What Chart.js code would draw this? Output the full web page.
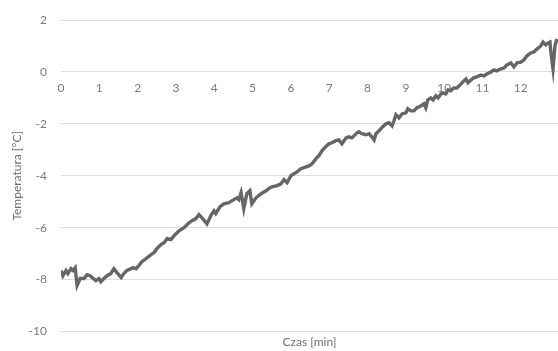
<!DOCTYPE html>
<html>
<head>
<meta charset="utf-8">
<script src="https://cdn.jsdelivr.net/npm/chart.js@4/dist/chart.umd.min.js"></script>
<style>
  html, body { margin: 0; padding: 0; background: #ffffff; }
  #wrap { width: 558px; height: 351px; }
</style>
</head>
<body>
<div id="wrap"><canvas id="c" width="558" height="351"></canvas></div>
<script>
// Czas pomiaru [min]
const czas = [0, 0.05, 0.13, 0.18, 0.26, 0.31, 0.37, 0.42, 0.50, 0.60,
  0.68, 0.76, 0.81, 0.91, 0.99, 1.04, 1.12, 1.20, 1.30, 1.38,
  1.46, 1.57, 1.64, 1.72, 1.83, 1.88, 1.96, 2.03, 2.11, 2.22,
  2.35, 2.43, 2.50, 2.61, 2.69, 2.77, 2.87, 2.95, 3.08, 3.21,
  3.34, 3.42, 3.52, 3.60, 3.68, 3.81, 3.91, 3.99, 4.04, 4.15,
  4.25, 4.38, 4.51, 4.59, 4.64, 4.70, 4.77, 4.85, 4.93, 4.98,
  5.09, 5.22, 5.35, 5.45, 5.53, 5.64, 5.74, 5.82, 5.90, 6.00,
  6.08, 6.16, 6.26, 6.34, 6.47, 6.55, 6.65, 6.73, 6.81, 6.91,
  6.99, 7.07, 7.17, 7.25, 7.33, 7.44, 7.51, 7.59, 7.70, 7.77,
  7.85, 7.96, 8.04, 8.11, 8.17, 8.22, 8.30, 8.37, 8.48, 8.56,
  8.64, 8.69, 8.74, 8.82, 8.90, 9.00, 9.05, 9.13, 9.21, 9.29,
  9.39, 9.47, 9.52, 9.57, 9.65, 9.71, 9.78, 9.84, 9.91, 9.97,
  10.04, 10.10, 10.17, 10.25, 10.33, 10.44, 10.51, 10.57, 10.62, 10.70,
  10.77, 10.85, 10.96, 11.04, 11.11, 11.22, 11.30, 11.37, 11.48, 11.56,
  11.64, 11.74, 11.82, 11.90, 12.00, 12.08, 12.16, 12.26, 12.34, 12.42,
  12.52, 12.58, 12.65, 12.71, 12.76, 12.78, 12.84, 12.89, 12.94];

// Temperatura [°C]
const temperatura = [-7.65, -7.85, -7.65, -7.77, -7.58, -7.65, -7.54, -8.23, -7.96, -7.96,
  -7.81, -7.85, -7.92, -8.04, -7.96, -8.08, -7.96, -7.85, -7.77, -7.58,
  -7.73, -7.92, -7.77, -7.65, -7.58, -7.54, -7.58, -7.46, -7.31, -7.19,
  -7.04, -6.96, -6.81, -6.65, -6.58, -6.42, -6.46, -6.31, -6.12, -6.0,
  -5.81, -5.73, -5.65, -5.5, -5.62, -5.85, -5.54, -5.35, -5.46, -5.19,
  -5.08, -5.04, -4.92, -4.85, -4.92, -4.65, -5.27, -4.69, -4.58, -5.08,
  -4.85, -4.69, -4.58, -4.46, -4.42, -4.38, -4.31, -4.15, -4.27, -4.0,
  -3.92, -3.85, -3.73, -3.69, -3.62, -3.54, -3.35, -3.23, -3.04, -2.88,
  -2.77, -2.73, -2.65, -2.62, -2.77, -2.54, -2.5, -2.54, -2.38, -2.31,
  -2.38, -2.42, -2.38, -2.5, -2.62, -2.38, -2.27, -2.15, -2.0, -1.96,
  -2.08, -1.88, -1.65, -1.77, -1.62, -1.58, -1.42, -1.5, -1.5, -1.38,
  -1.31, -1.23, -1.38, -1.08, -1.0, -1.08, -0.92, -1.0, -0.85, -0.81,
  -0.85, -0.69, -0.73, -0.62, -0.62, -0.46, -0.35, -0.27, -0.42, -0.31,
  -0.23, -0.19, -0.12, -0.15, -0.08, 0.0, 0.08, 0.04, 0.12, 0.15,
  0.27, 0.35, 0.19, 0.35, 0.38, 0.46, 0.62, 0.73, 0.77, 0.88,
  1.0, 1.15, 1.04, 1.12, 1.15, 0.81, 0.12, 1.0, 1.27];

// Podziałka osi
const czasTicks = [0, 1, 2, 3, 4, 5, 6, 7, 8, 9, 10, 11, 12];
const tempTicks = [-10, -8, -6, -4, -2, 0, 2];

const punkty = czas.map((t, i) => ({ x: t, y: temperatura[i] }));
const FONT = 'Lato, "Liberation Sans", sans-serif';
const xMax = 12.97;

new Chart(document.getElementById('c'), {
  type: 'line',
  data: {
    datasets: [{
      data: punkty,
      xAxisID: 'x',
      yAxisID: 'y',
      borderColor: '#666666',
      borderWidth: 3.4,
      pointRadius: 0,
      tension: 0,
      fill: false
    }]
  },
  options: {
    responsive: false,
    animation: false,
    layout: { padding: { left: 10, right: 0, top: 20, bottom: 0 } },
    plugins: { legend: { display: false }, tooltip: { enabled: false } },
    scales: {
      // oś czasu przecina oś temperatury w zerze
      x: {
        type: 'linear',
        position: { y: 0 },
        min: 0,
        max: xMax,
        afterFit: (s) => { s.height = 0; },
        afterBuildTicks: (s) => { s.ticks = czasTicks.map(v => ({ value: v })); },
        grid: { display: false, drawTicks: false },
        border: { display: false },
        ticks: {
          padding: 9,
          maxRotation: 0,
          color: '#7a7a7a',
          font: { family: FONT, size: 12 }
        }
      },
      // dolna oś tylko z opisem
      xb: {
        type: 'linear',
        position: 'bottom',
        min: 0,
        max: xMax,
        grid: { display: false, drawTicks: false },
        border: { display: false },
        ticks: { display: false },
        title: {
          display: true,
          text: 'Czas [min]',
          color: '#6e6e6e',
          font: { family: FONT, size: 12 },
          padding: { top: 3.5, bottom: 1.6 }
        }
      },
      y: {
        type: 'linear',
        min: -10,
        max: 2,
        afterFit: (s) => { s.width = 51; },
        afterBuildTicks: (s) => { s.ticks = tempTicks.map(v => ({ value: v })); },
        grid: {
          color: '#dcdcdc',
          lineWidth: 1,
          drawTicks: true,
          tickLength: 11,
          tickColor: 'rgba(0,0,0,0)'
        },
        border: { display: false },
        ticks: {
          padding: 3,
          color: '#7a7a7a',
          font: { family: FONT, size: 12 }
        },
        title: {
          display: true,
          text: 'Temperatura [°C]',
          color: '#6e6e6e',
          font: { family: FONT, size: 12 },
          padding: { top: 0, bottom: 6 }
        }
      }
    }
  }
});
</script>
</body>
</html>
